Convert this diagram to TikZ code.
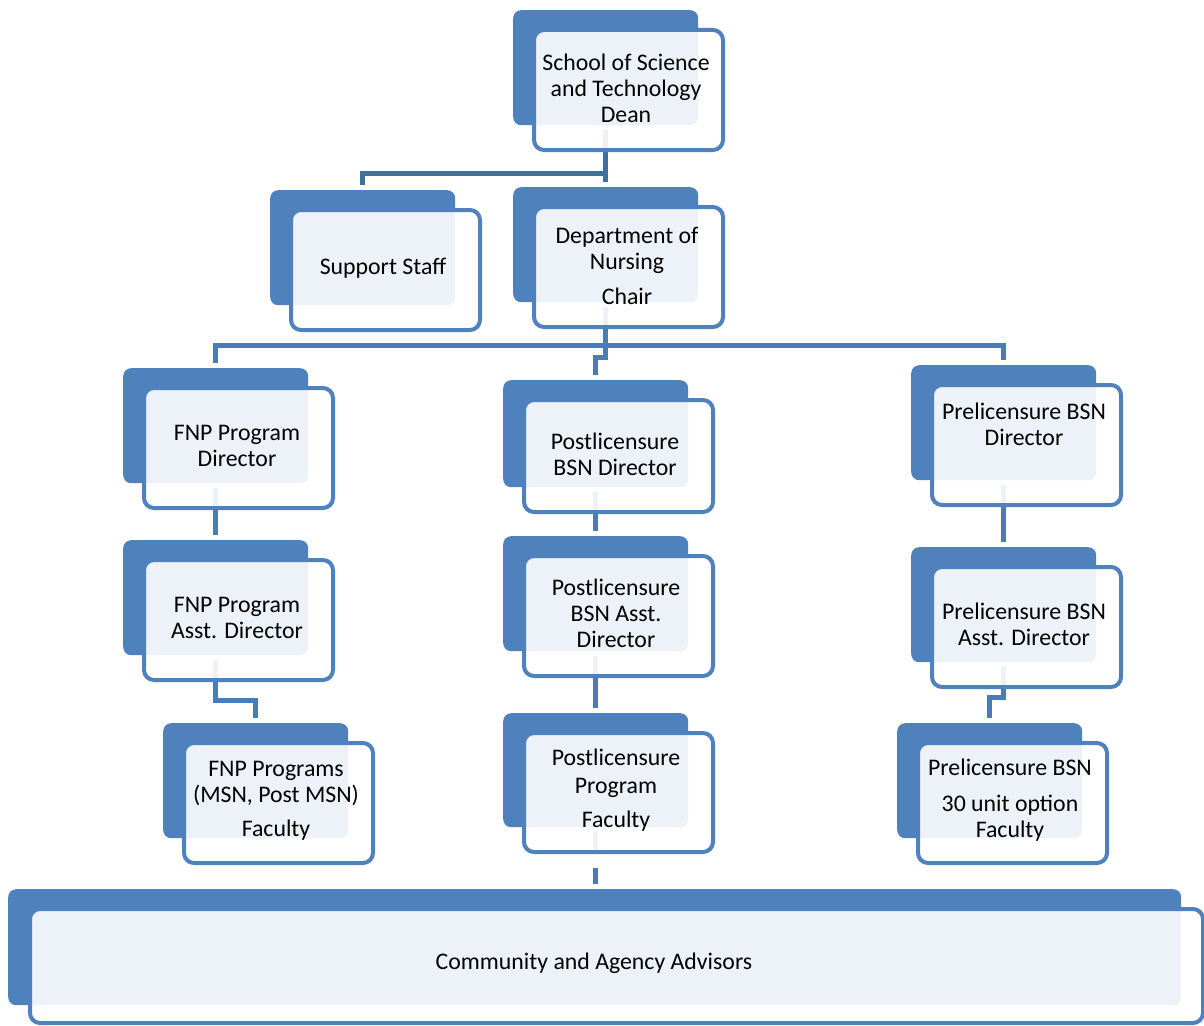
\documentclass[tikz,border=0pt]{standalone}
\usepackage{fontspec}
\setmainfont{Carlito}
\definecolor{accent}{HTML}{4F81BD}
\definecolor{linkdark}{HTML}{41709F}
\definecolor{linkblue}{HTML}{4A7CB8}
\tikzset{
  backbox/.style={fill=accent, rounded corners=8pt, inner sep=0pt, anchor=north west, minimum width=185pt},
  frontbox/.style={draw=accent, line width=4pt, fill=white, fill opacity=0.9, rounded corners=10pt, inner sep=0pt, anchor=north west, minimum width=189pt},
  boxtext/.style={align=center, font=\fontsize{23.8}{26}\selectfont, text=black, inner sep=0pt},
  linkA/.style={draw=linkdark, line width=5pt, shorten <=5pt, shorten >=5pt},
  linkB/.style={draw=linkblue, line width=5pt, shorten <=5pt, shorten >=5pt},
}
% name, x, y, height
\newcommand\orgback[4]{\node[backbox, minimum height=#4pt] (#1-b) at (#2,#3) {};}
% name, x, y, height, text x, text y, text
\newcommand\orgfront[7]{%
  \pgfmathsetmacro\frontht{#4+5}%
  \node[frontbox, minimum height=\frontht pt] (#1) at ({#2+19},{#3+18}) {};
  \node[boxtext] (#1-t) at (#5,#6) {#7};}
\begin{document}
\begin{tikzpicture}[x=1pt, y=-1pt]
\useasboundingbox (0,0) rectangle (1204,1025);
% back plates
\orgback{dean}{513}{10}{115}
\orgback{sup}{270}{190}{115}
\orgback{dept}{513}{187}{115}
\orgback{fnpa}{123}{368}{115}
\orgback{fnpb}{123}{540}{115}
\orgback{fnpc}{163}{723}{115}
\orgback{posta}{503}{380}{107}
\orgback{postb}{503}{536}{115}
\orgback{postc}{503}{713}{114}
\orgback{prea}{911}{365}{115}
\orgback{preb}{911}{547}{115}
\orgback{prec}{897}{723}{115}
\node[backbox, minimum width=1173pt, minimum height=116pt] (comm-b) at (8,889) {};
% connectors
\draw[linkA] (dean-b.south) -- (dept-b.north);
\draw[linkA] (dean-b.south) -- ++(0,48) -| (sup-b.north);
\draw[linkB] (dept-b.south) -- ++(0,43) -| (fnpa-b.north);
\draw[linkB] (dept-b.south) -- ++(0,43) -| (prea-b.north);
\draw[linkB] (dept-b.south) -- ++(0,55) -| (posta-b.north);
\draw[linkB] (fnpa-b.south) -- (fnpa-b.south |- fnpb-b.north);
\draw[linkB] (fnpb-b.south) -- ++(0,45) -| (fnpc-b.north);
\draw[linkB] (posta-b.south) -- (posta-b.south |- postb-b.north);
\draw[linkB] (postb-b.south) -- (postb-b.south |- postc-b.north);
\draw[linkB, dash pattern=on 21pt off 15pt on 20pt] (postc-b.south) -- (postc-b.south |- comm-b.north);
\draw[linkB] (prea-b.south) -- (prea-b.south |- preb-b.north);
\draw[linkB] (preb-b.south) -- ++(0,35) -| (prec-b.north);
% front frames and texts
\orgfront{dean}{513}{10}{115}{626}{88}{School of Science\\and Technology\\Dean}
\orgfront{sup}{270}{190}{115}{383}{268}{Support Staff}
\orgfront{dept}{513}{187}{115}{627}{266}{Department of\\Nursing\\[9pt]Chair}
\orgfront{fnpa}{123}{368}{115}{237}{446}{FNP Program\\Director}
\orgfront{fnpb}{123}{540}{115}{237}{617.5}{FNP Program\\Asst. Director}
\orgfront{fnpc}{163}{723}{115}{276}{801}{FNP Programs\\(MSN, Post MSN)\\[8pt]Faculty}
\orgfront{posta}{503}{380}{107}{615}{454.5}{Postlicensure\\BSN Director}
\orgfront{postb}{503}{536}{115}{616}{613}{Postlicensure\\BSN Asst.\\Director}
\orgfront{postc}{503}{713}{114}{616}{790}{Postlicensure\\[2pt]Program\\[8pt]Faculty}
\orgfront{prea}{911}{365}{115}{1024}{424.5}{Prelicensure BSN\\Director}
\orgfront{preb}{911}{547}{115}{1024}{624.5}{Prelicensure BSN\\Asst. Director}
\orgfront{prec}{897}{723}{115}{1010}{800}{Prelicensure BSN\\[10pt]30 unit option\\Faculty}
\node[frontbox, minimum width=1173pt, minimum height=114pt] (comm) at (28,907) {};
\node[boxtext] (comm-t) at (594,963) {Community and Agency Advisors};
\end{tikzpicture}
\end{document}
